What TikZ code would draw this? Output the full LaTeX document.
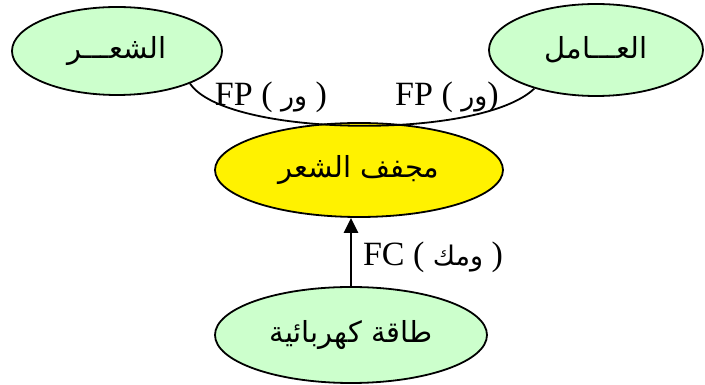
\documentclass[tikz,border=0pt]{standalone}
\usepackage{fontspec}
\setmainfont{Liberation Serif}
\newfontfamily\arabicfont[Script=Arabic]{DejaVu Sans}
\TeXXeTstate=1
\usepackage{tikz}
\usetikzlibrary{positioning,calc,shapes,arrows.meta}
\definecolor{palegreen}{HTML}{CCFFCC}
\tikzstyle{ell}= [ellipse, draw, line width=1.8pt, inner sep=0pt, font=\fontsize{29}{32}\selectfont]
\tikzstyle{lbl}= [inner sep=0pt, font=\fontsize{34}{38}\selectfont]
\newcommand{\ar}[1]{{\arabicfont\beginR #1\endR}}
\newcommand{\arsmall}[1]{{\arabicfont\fontsize{27}{30}\selectfont\beginR #1\endR}}

\begin{document}
\begin{tikzpicture}[x=1pt, y=1pt]
				\useasboundingbox (0,0) rectangle (705,385);
				\node[ell, fill=palegreen, minimum width=210pt, minimum height=88pt] (hair) at (117, 334) {\ar{الشعـــر}};
				\node[ell, fill=palegreen, minimum width=214pt, minimum height=92pt] (worker) at (596, 335) {\ar{العـــامل}};
				\node[ell, fill=yellow, minimum width=288pt, minimum height=94pt] (dryer) at (359, 215) {\ar{مجفف الشعر}};
				\node[ell, fill=palegreen, minimum width=272pt, minimum height=96pt] (power) at (351, 50) {\ar{طاقة كهربائية}};

				\draw[line width=1.8pt] (hair.-24) .. controls (225, 248) and (480, 244) .. (worker.212);
				\draw[line width=2.6pt, -{Triangle[length=15pt, width=14pt]}] (power.north) -- (power.north |- dryer.south);

				\node[lbl] (fpl) at (271, 288) {FP ( \arsmall{ور} )};
				\node[lbl] (fpr) at (447, 288) {FP ( \arsmall{ور})};
				\node[lbl] (fc) at (433, 128) {FC ( \arsmall{ومك} )};
			\end{tikzpicture}
\end{document}
